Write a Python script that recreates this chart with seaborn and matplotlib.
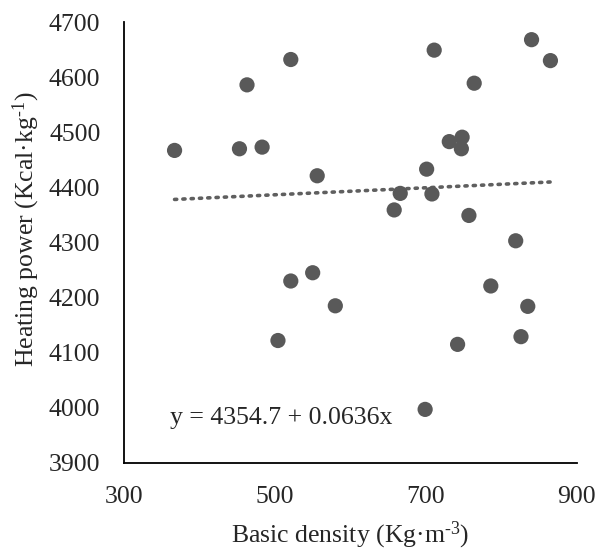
import numpy as np
import pandas as pd
import matplotlib
matplotlib.use("Agg")
import matplotlib.pyplot as plt
import seaborn as sns

# values
density = [367, 463, 521, 453, 483, 556, 711, 840, 865, 764, 731, 748, 747, 701,
           666, 708, 658, 757, 819, 550, 521, 580, 786, 835, 504, 742, 826, 699]
heating = [4467, 4586, 4632, 4470, 4473, 4421, 4649, 4668, 4630, 4589, 4483, 4491,
           4470, 4433, 4389, 4388, 4359, 4349, 4303, 4245, 4230, 4185, 4221, 4184,
           4122, 4115, 4129, 3997]
intercept = 4354.7
slope = 0.0636
x_ticks = [300, 500, 700, 900]
y_ticks = [3900, 4000, 4100, 4200, 4300, 4400, 4500, 4600, 4700]

sns.set_style("white")
plt.rcParams['font.family'] = ['Liberation Serif', 'DejaVu Serif']
plt.rcParams['mathtext.fontset'] = 'custom'
plt.rcParams['mathtext.rm'] = 'Liberation Serif'
plt.rcParams['mathtext.default'] = 'regular'

df = pd.DataFrame({'density': density, 'heating': heating})
xs = np.array([min(density), max(density)])
trend = pd.DataFrame({'density': xs, 'heating': intercept + slope * xs})

fs = 18.5
fig = plt.figure(figsize=(5.99, 5.51), dpi=100)
ax = fig.add_axes([0.207, 0.160, 0.756, 0.800])

sns.lineplot(data=trend, x='density', y='heating', ax=ax, color='#5f5f5f',
             linestyle=(0, (0.6, 1.7)), linewidth=2.6, dash_capstyle='round')
sns.scatterplot(data=df, x='density', y='heating', ax=ax, s=120,
                color='#595959', edgecolor='none', zorder=3)

ax.set_xlim(300, 900)
ax.set_ylim(3900, 4700)
ax.set_xticks(x_ticks)
ax.set_yticks(y_ticks)
ax.tick_params(axis='both', length=0, labelsize=fs)
ax.tick_params(axis='y', pad=17)
ax.tick_params(axis='x', pad=17)

for side in ['top', 'right']:
    ax.spines[side].set_visible(False)
for side in ['left', 'bottom']:
    ax.spines[side].set_color('black')
    ax.spines[side].set_linewidth(1.3)

ax.set_xlabel('Basic density (Kg·m$^{\u20103}$)', fontsize=fs, labelpad=8)
ax.set_ylabel('Heating power (Kcal·kg$^{\u20101}$)', fontsize=fs, labelpad=5)
ax.yaxis.label.set_y(0.53)

ax.text(361, 3981, f'y = {intercept} + {slope}x', fontsize=fs, va='center', ha='left')

fig.savefig('out.png', dpi=100)
